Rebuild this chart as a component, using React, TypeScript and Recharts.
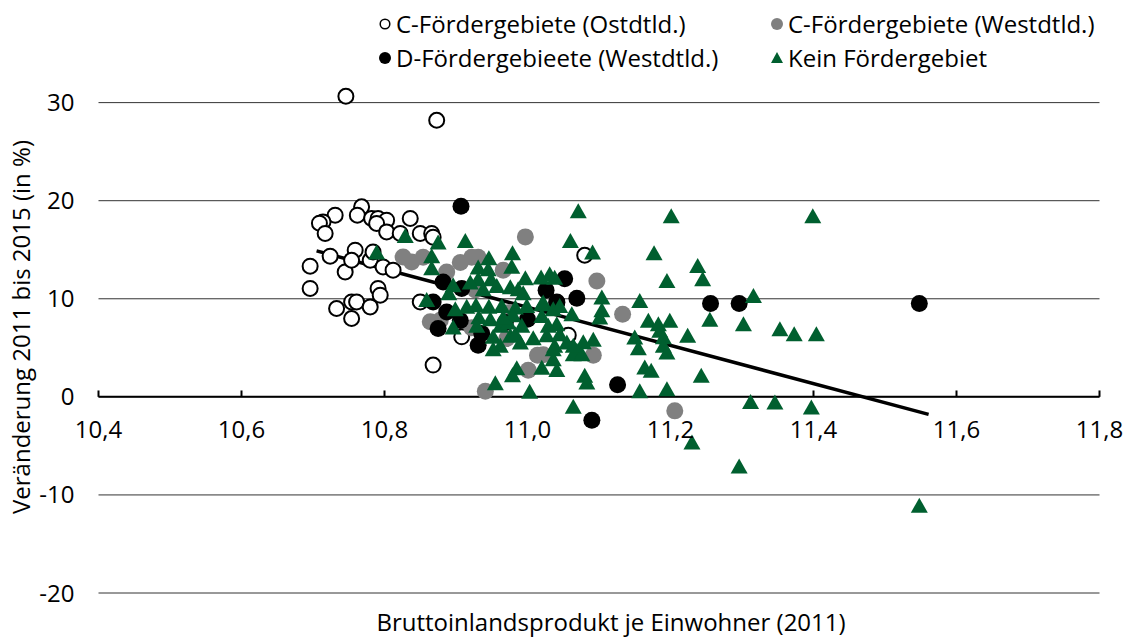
import { ScatterChart, Scatter, XAxis, YAxis, CartesianGrid, ReferenceLine } from 'recharts'

// x = BIP je Einwohner (log, 2011), y = Veränderung 2011 bis 2015 in %
const cOstPoints: [number, number][] = [
    [10.746, 30.65], [10.873, 28.2], [10.768, 19.37], [10.762, 18.52], [10.731, 18.52],
    [10.714, 17.84], [10.709, 17.71], [10.782, 18.19], [10.791, 18.19], [10.803, 18.01],
    [10.789, 17.68], [10.803, 16.82], [10.836, 18.19], [10.717, 16.66], [10.85, 16.66],
    [10.866, 16.66], [10.868, 16.28], [10.822, 16.66], [10.724, 14.34], [10.696, 13.32],
    [10.696, 11.05], [10.745, 12.74], [10.759, 14.95], [10.754, 13.93], [10.78, 13.93],
    [10.784, 14.78], [10.798, 13.25], [10.812, 12.92], [10.791, 11.05], [10.794, 10.37],
    [10.733, 9.01], [10.754, 9.68], [10.761, 9.68], [10.78, 9.17], [10.754, 7.99],
    [10.85, 9.68], [10.908, 6.12], [10.868, 3.24], [11.08, 14.44], [11.057, 6.29],
    [11.041, 9.68],
]

const cWestPoints: [number, number][] = [
    [10.997, 16.31], [10.826, 14.27], [10.838, 13.76], [10.854, 14.24], [10.887, 12.74],
    [10.922, 14.24], [10.931, 14.24], [11.097, 11.82], [10.864, 7.65], [10.922, 7.05],
    [10.971, 5.95], [11.014, 4.25], [11.001, 2.72], [10.941, 0.58], [11.092, 4.25],
    [11.133, 8.43], [11.206, -1.43], [10.878, 7.8], [10.906, 13.7], [10.966, 12.9],
    [10.927, 10.9], [10.975, 8.6], [11.022, 4.3],
]

const dWestPoints: [number, number][] = [
    [10.907, 19.44], [10.882, 11.72], [10.908, 11.05], [10.868, 9.68], [10.887, 8.66],
    [10.875, 6.97], [10.931, 5.27], [10.936, 6.46], [11.0, 7.92], [11.026, 10.88],
    [11.052, 12.03], [11.069, 10.06], [11.041, 9.6], [11.126, 1.24], [11.09, -2.38],
    [11.256, 9.52], [11.296, 9.52], [11.548, 9.52], [10.906, 7.79], [10.969, 7.59],
]

const keinPoints: [number, number][] = [
    [11.071, 18.83], [11.201, 18.32], [11.399, 18.32], [11.06, 15.8], [11.091, 14.62],
    [11.177, 14.55], [11.238, 13.25], [11.245, 11.9], [11.195, 11.72], [11.316, 10.19],
    [11.157, 9.68], [11.104, 10.03], [11.104, 8.74], [11.062, 8.33], [11.169, 7.65],
    [11.183, 7.31], [11.199, 7.65], [11.255, 7.75], [11.302, 7.31], [11.353, 6.8],
    [11.373, 6.29], [11.404, 6.29], [11.224, 6.12], [11.185, 6.63], [11.19, 5.98],
    [11.15, 5.95], [11.155, 4.86], [11.19, 5.1], [11.195, 4.42], [11.092, 5.73],
    [11.078, 5.47], [11.069, 4.61], [11.064, 4.25], [11.076, 4.25], [11.038, 5.1],
    [11.036, 3.74], [11.041, 2.64], [11.02, 2.87], [11.164, 2.9], [11.173, 2.55],
    [11.08, 2.04], [11.083, 1.37], [11.243, 2.04], [11.157, 0.46], [11.195, 0.68],
    [11.064, -1.1], [11.312, -0.64], [11.346, -0.67], [11.397, -1.18], [11.23, -4.75],
    [11.296, -7.2], [11.548, -11.21], [11.031, 12.41], [11.038, 12.05], [11.022, 9.52],
    [10.829, 16.31], [10.875, 15.64], [10.913, 15.8], [10.866, 14.24], [10.866, 13.02],
    [10.946, 14.04], [10.931, 13.09], [10.945, 12.92], [10.949, 11.9], [10.979, 14.55],
    [10.978, 13.17], [10.931, 11.9], [10.92, 11.56], [10.896, 11.28], [10.89, 10.47],
    [10.997, 12.0], [11.019, 12.07], [10.976, 11.08], [10.987, 10.88], [10.994, 10.47],
    [10.938, 10.88], [10.957, 11.21], [10.859, 9.76], [10.899, 8.84], [10.915, 9.09],
    [10.928, 9.25], [10.946, 9.09], [10.964, 9.17], [10.983, 9.01], [10.999, 9.17],
    [11.02, 9.35], [11.036, 8.84], [11.045, 9.17], [10.896, 6.97], [10.932, 8.02],
    [10.929, 7.14], [10.948, 7.82], [10.962, 7.14], [10.973, 7.48], [10.98, 8.23],
    [10.992, 7.14], [11.02, 8.15], [11.029, 7.14], [11.041, 7.31], [10.952, 6.03],
    [10.962, 5.1], [10.976, 6.12], [10.99, 5.44], [11.008, 5.88], [11.027, 6.19],
    [11.045, 6.29], [11.055, 5.44], [11.064, 5.1], [10.952, 4.76], [11.036, 4.76],
    [10.985, 2.82], [10.979, 2.11], [10.955, 1.29], [11.003, 0.43], [10.789, 14.62],
    [10.966, 7.99], [10.983, 6.29], [11.101, 7.99],
]

const trendPoints: [number, number][] = [[10.705, 14.88], [11.561, -1.79]]

const xTicks = [10.4, 10.6, 10.8, 11.0, 11.2, 11.4, 11.6, 11.8]
const yTicks = [-20, -10, 0, 10, 20, 30]

const seriesNames = [
    'C-Fördergebiete (Ostdtld.)',
    'C-Fördergebiete (Westdtld.)',
    'D-Fördergebieete (Westdtld.)',
    'Kein Fördergebiet',
]

const toXY = (pts: [number, number][]) => pts.map(([x, y]) => ({ x, y }))

const W = 1131
const H = 639
const MARGIN = { top: 83, right: 31.5, bottom: 6, left: 28.5 }
const X_AXIS_H = 40
const Y_MIN = -20
const Y_MAX = 32
const FONT = '"Open Sans", sans-serif'
const FS = 24
const GREEN = '#005f2f'
const GRAY = '#808080'

const plotH = H - MARGIN.top - MARGIN.bottom - X_AXIS_H
const zeroY = MARGIN.top + (plotH * Y_MAX) / (Y_MAX - Y_MIN)

const fmt = (v: number) => v.toFixed(1).replace('.', ',')

function OpenCircle({ cx, cy }: any) {
    return <circle cx={cx} cy={cy} r={7.5} fill="#fff" stroke="#000" strokeWidth={2} />
}
function GrayCircle({ cx, cy }: any) {
    return <circle cx={cx} cy={cy} r={8.5} fill={GRAY} />
}
function BlackCircle({ cx, cy }: any) {
    return <circle cx={cx} cy={cy} r={8.5} fill="#000" />
}
function Triangle({ cx, cy }: any) {
    return <polygon points={`${cx},${cy - 9} ${cx - 8.5},${cy + 6} ${cx + 8.5},${cy + 6}`} fill={GREEN} />
}

function XTick({ x, payload }: any) {
    return (
        <text x={x} y={zeroY + 41} textAnchor="middle" fontSize={FS} fontFamily={FONT} fill="#000">
            {fmt(payload.value)}
        </text>
    )
}

function LegendIcon({ i }: { i: number }) {
    return (
        <svg width={14} height={14} style={{ marginRight: 4, flex: 'none' }}>
            {i === 0 && <circle cx={7} cy={7} r={4.8} fill="#fff" stroke="#000" strokeWidth={1.5} />}
            {i === 1 && <circle cx={7} cy={7} r={6} fill={GRAY} />}
            {i === 2 && <circle cx={7} cy={7} r={6} fill="#000" />}
            {i === 3 && <polygon points="7,1 1,12 13,12" fill={GREEN} />}
        </svg>
    )
}

export default function App() {
    return (
        <div style={{ position: 'absolute', left: 0, top: 0, width: W, height: H, background: '#fff', fontFamily: FONT }}>
            <div
                style={{
                    position: 'absolute',
                    left: 378,
                    top: 7,
                    display: 'grid',
                    gridTemplateColumns: '392px auto',
                    rowGap: 1,
                    fontSize: FS,
                    color: '#000',
                }}
            >
                {seriesNames.map((n, i) => (
                    <div key={n} style={{ display: 'flex', alignItems: 'center', height: 33 }}>
                        <LegendIcon i={i} />
                        <span>{n}</span>
                    </div>
                ))}
            </div>
            <ScatterChart width={W} height={H} margin={MARGIN}>
                <CartesianGrid vertical={false} stroke="#333" horizontalValues={yTicks} />
                <XAxis
                    type="number"
                    dataKey="x"
                    domain={[10.4, 11.8]}
                    ticks={xTicks}
                    height={X_AXIS_H}
                    axisLine={false}
                    tickLine={false}
                    tick={<XTick />}
                    label={{ value: 'Bruttoinlandsprodukt je Einwohner (2011)', position: 'insideBottom', offset: 2, dx: 12, fontSize: FS, fontFamily: FONT, fill: '#000' }}
                />
                <YAxis
                    type="number"
                    dataKey="y"
                    domain={[Y_MIN, Y_MAX]}
                    ticks={yTicks}
                    width={70}
                    axisLine={false}
                    tickLine={false}
                    tickSize={0}
                    tickMargin={24}
                    tick={{ fontSize: FS, fontFamily: FONT, fill: '#000' }}
                    label={{
                        content: ({ viewBox }: any) => (
                            <text
                                transform={`translate(${viewBox.x - 8},${viewBox.y + viewBox.height / 2 - 11}) rotate(-90)`}
                                textAnchor="middle"
                                dominantBaseline="central"
                                fontSize={FS}
                                fontFamily={FONT}
                                fill="#000"
                            >
                                Veränderung 2011 bis 2015 (in %)
                            </text>
                        ),
                    }}
                />
                <ReferenceLine y={0} stroke="#000" strokeWidth={2} />
                {xTicks.map((t) => (
                    <ReferenceLine key={t} segment={[{ x: t, y: 0 }, { x: t, y: 0.65 }]} stroke="#000" strokeWidth={2} />
                ))}
                <Scatter name={seriesNames[0]} data={toXY(cOstPoints)} shape={OpenCircle} isAnimationActive={false} />
                <Scatter name={seriesNames[1]} data={toXY(cWestPoints)} shape={GrayCircle} isAnimationActive={false} />
                <Scatter name={seriesNames[2]} data={toXY(dWestPoints)} shape={BlackCircle} isAnimationActive={false} />
                <Scatter name={seriesNames[3]} data={toXY(keinPoints)} shape={Triangle} isAnimationActive={false} />
                <ReferenceLine
                    segment={[{ x: trendPoints[0][0], y: trendPoints[0][1] }, { x: trendPoints[1][0], y: trendPoints[1][1] }]}
                    stroke="#000"
                    strokeWidth={3.5}
                />
            </ScatterChart>
        </div>
    )
}
